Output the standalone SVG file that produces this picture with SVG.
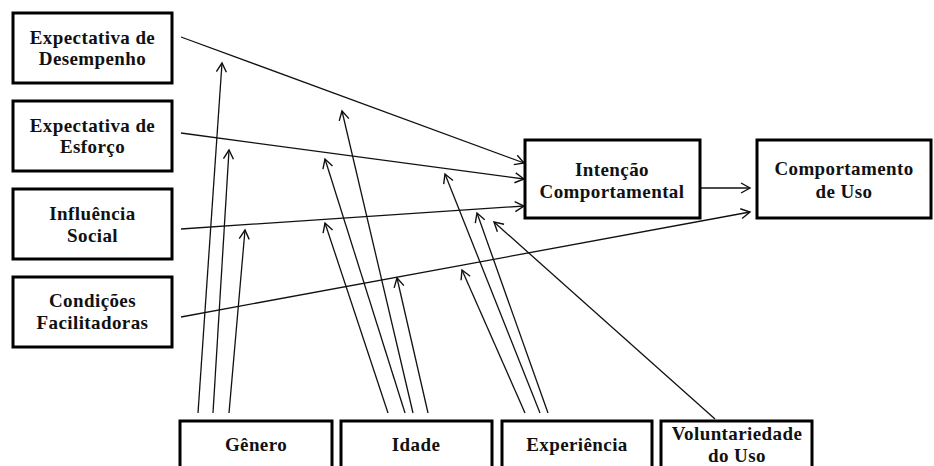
<svg xmlns="http://www.w3.org/2000/svg" width="934" height="466" viewBox="0 0 934 466">
<defs>
<marker id="arr" markerUnits="userSpaceOnUse" markerWidth="12" markerHeight="12" refX="10" refY="5" orient="auto" overflow="visible">
<path d="M1,0 L10,5 L1,10" fill="none" stroke="#111" stroke-width="1.4"/>
</marker>
<style>
.box{fill:#fff;stroke:#000;stroke-width:3}
.t{font-family:"Liberation Serif","Times New Roman",serif;font-weight:bold;font-size:19px;letter-spacing:0.4px;fill:#111;text-anchor:middle}
.c{fill:none;stroke:#111;stroke-width:1.3;marker-end:url(#arr)}
</style>
</defs>
<rect width="934" height="466" fill="#fff"/>
<g id="connectors">
<line class="c" x1="181" y1="37" x2="524" y2="163"/>
<line class="c" x1="181" y1="133" x2="524" y2="179"/>
<line class="c" x1="181" y1="229" x2="524" y2="206"/>
<line class="c" x1="181" y1="317" x2="750" y2="212"/>
<line class="c" x1="701" y1="188" x2="750" y2="188"/>
<line class="c" x1="198" y1="413" x2="222" y2="63"/>
<line class="c" x1="213" y1="413" x2="229" y2="150"/>
<line class="c" x1="229" y1="413" x2="245" y2="230"/>
<line class="c" x1="388" y1="413" x2="325" y2="223"/>
<line class="c" x1="405" y1="413" x2="325" y2="159"/>
<line class="c" x1="413" y1="413" x2="342" y2="111"/>
<line class="c" x1="428" y1="413" x2="397" y2="278"/>
<line class="c" x1="525" y1="413" x2="462" y2="270"/>
<line class="c" x1="540" y1="413" x2="445" y2="174"/>
<line class="c" x1="548" y1="413" x2="477" y2="213"/>
<line class="c" x1="715" y1="419" x2="494" y2="222"/>
</g>
<g id="n-desempenho">
<rect class="box" x="13" y="13" width="159" height="70"/>
<text class="t" x="92.5" y="44">Expectativa de</text>
<text class="t" x="92.5" y="65">Desempenho</text>
</g>
<g id="n-esforco">
<rect class="box" x="13" y="101" width="159" height="70"/>
<text class="t" x="92.5" y="132">Expectativa de</text>
<text class="t" x="92.5" y="153">Esforço</text>
</g>
<g id="n-social">
<rect class="box" x="13" y="189" width="159" height="70"/>
<text class="t" x="92.5" y="220">Influência</text>
<text class="t" x="92.5" y="242">Social</text>
</g>
<g id="n-condicoes">
<rect class="box" x="13" y="277" width="159" height="70"/>
<text class="t" x="92.5" y="307">Condições</text>
<text class="t" x="92.5" y="329">Facilitadoras</text>
</g>
<g id="n-intencao">
<rect class="box" x="525" y="140" width="175" height="78"/>
<text class="t" x="612" y="176">Intenção</text>
<text class="t" x="612" y="198">Comportamental</text>
</g>
<g id="n-comportamento">
<rect class="box" x="757" y="140" width="174" height="78"/>
<text class="t" x="844" y="175">Comportamento</text>
<text class="t" x="844" y="198">de Uso</text>
</g>
<g id="n-genero">
<rect class="box" x="180" y="421" width="152" height="60"/>
<text class="t" x="256" y="451">Gênero</text>
</g>
<g id="n-idade">
<rect class="box" x="341" y="421" width="151" height="60"/>
<text class="t" x="416" y="451">Idade</text>
</g>
<g id="n-experiencia">
<rect class="box" x="502" y="421" width="150" height="60"/>
<text class="t" x="577" y="451">Experiência</text>
</g>
<g id="n-voluntariedade">
<rect class="box" x="661" y="421" width="151" height="60"/>
<text class="t" x="737" y="440">Voluntariedade</text>
<text class="t" x="737" y="462">do Uso</text>
</g>
</svg>
